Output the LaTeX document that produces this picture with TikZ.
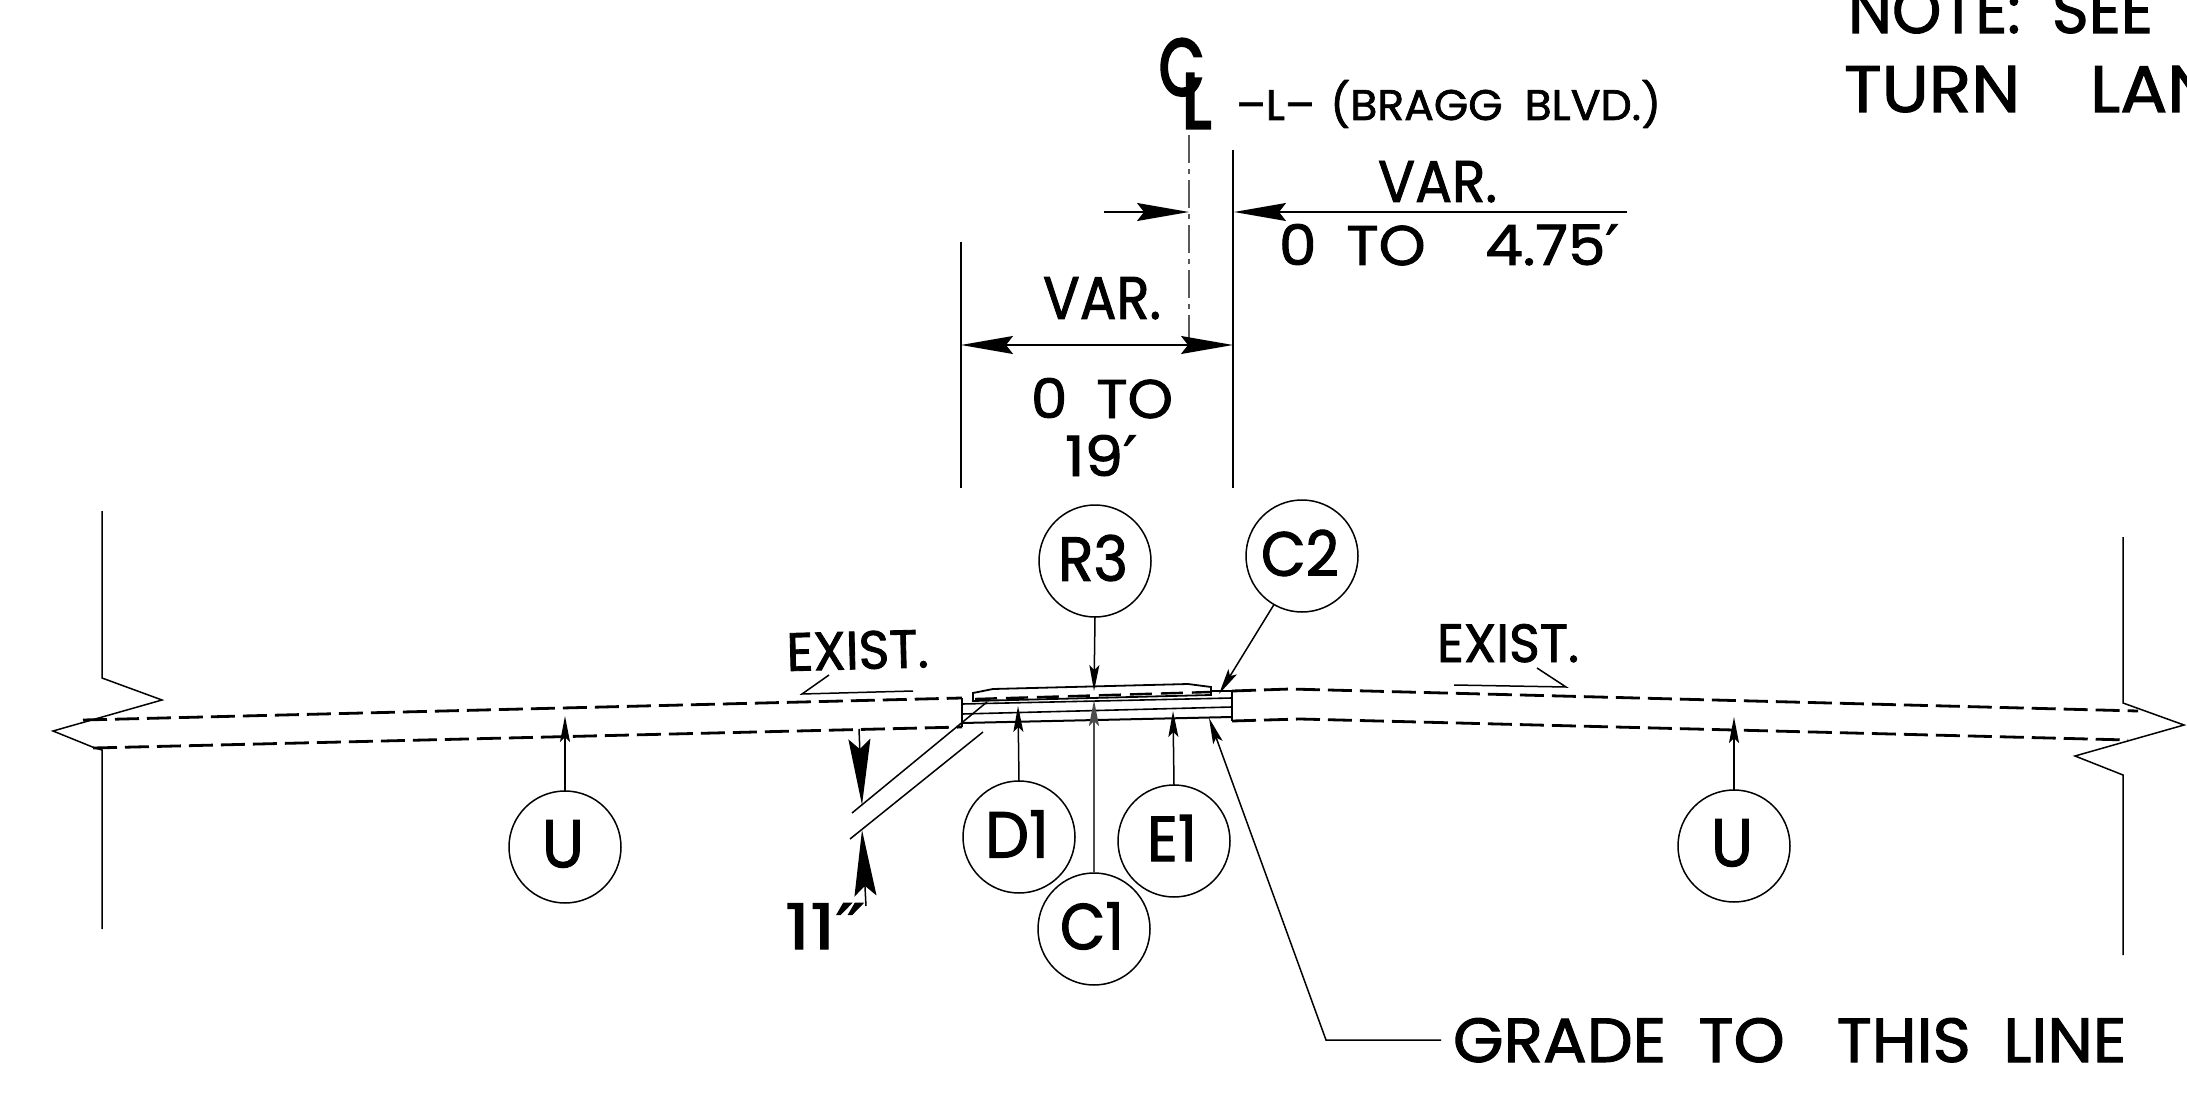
\documentclass[tikz,border=0pt]{standalone}
\usepackage{graphicx}
\usepackage{fontspec}
\setmainfont{Poppins}[RawFeature={embolden=1.6}]
\newfontfamily\clfont{Poppins}[RawFeature={embolden=4}]
\newfontfamily\primefont{DejaVu Sans}[RawFeature={embolden=1.6}]
\usetikzlibrary{arrows.meta}
\newcommand{\fit}[3]{\resizebox{#1pt}{#2pt}{#3}}
\newcommand{\bub}[3]{\raisebox{3pt}[\height][\depth]{\fit{#1}{#2}{#3}}\hspace*{4pt}}
\newcommand{\gap}{\hspace{0.5em}}
\tikzset{
  x=1pt,y=-1pt,
  txt/.style={anchor=base west,inner sep=0pt,outer sep=0pt},
  bubble/.style={draw,circle,minimum size=112pt,inner sep=0pt,outer sep=0pt,line width=1.5pt},
  thin line/.style={line width=1.5pt},
  ext line/.style={line width=1.6pt},
  road/.style={line width=2.8pt,dash pattern=on 24pt off 8pt},
  center line/.style={line width=1.5pt,draw=black!65,dash pattern=on 28pt off 6pt on 5pt off 6pt},
  bigtip/.style={-{Stealth[length=52pt,width=18pt,inset=7pt]},line width=1.6pt},
  lead/.style={-{Stealth[length=26pt,width=10pt,inset=5pt]},line width=1.5pt},
  dimtip/.style={-{Stealth[length=66pt,width=22pt,inset=10pt]},line width=1.5pt},
}
\begin{document}
\begin{tikzpicture}
\useasboundingbox (0,0) rectangle (2187,1099);
\clip (0,0) rectangle (2187,1099);

% note, clipped by the sheet edge
\node[txt] (note1) at (1848,33) {\fit{305}{46}{NOTE:\gap SEE}};
\node[txt] (note2) at (1844,112) {\fit{408}{46}{TURN\gap\gap LANE}};

% centreline symbol
\node[txt] (clc) at (1159,95) {\fit{45}{56}{\clfont C}};
\node[txt] (cll) at (1182,128) {\fit{29}{54}{\clfont L}};
\node[txt] (cltext) at (1236,120) {\fit{425}{40}{--L--\hspace{0.35em}(BRAGG\gap BLVD.)}};
\coordinate (clb) at (1189,135);
\coordinate (cle) at (1189,345);
\draw[center line] (clb) -- (cle);

% extension lines
\coordinate (e1a) at (1233,150); \coordinate (e1b) at (1233,488);
\coordinate (e2a) at (961,242);  \coordinate (e2b) at (961,488);
\draw[ext line] (e1a) -- (e1b);
\draw[ext line] (e2a) -- (e2b);

% upper dimension
\coordinate (d1a) at (1104,212); \coordinate (d1b) at (1189,212);
\coordinate (d1c) at (1627,212); \coordinate (d1d) at (1234,212);
\draw[bigtip] (d1a) -- (d1b);
\draw[bigtip] (d1c) -- (d1d);
\node[txt] (var1) at (1378,202) {\fit{119}{41}{VAR.}};
\node[txt] (to1) at (1279,265) {\fit{328}{41}{0\gap TO\gap\gap 4.75{\primefont ′}\hspace{-0.2em}}};

% lower dimension
\coordinate (d2a) at (961,345); \coordinate (d2b) at (1233,345);
\draw[bigtip,{Stealth[length=52pt,width=18pt,inset=7pt]}-{Stealth[length=52pt,width=18pt,inset=7pt]}] (d2a) -- (d2b);
\node[txt] (var2) at (1043,319) {\fit{118}{42}{VAR.}};
\node[txt] (to2) at (1031,418) {\fit{142}{40}{0\gap TO}};
\node[txt] (nineteen) at (1065,476) {\fit{72}{41}{19{\primefont ′}}};

% existing pavement, dashed
\coordinate (rl1) at (83,720); \coordinate (rl2) at (962,698);
\coordinate (rl3) at (93,748); \coordinate (rl4) at (962,727);
\coordinate (rr1) at (1232,691); \coordinate (rr2) at (1290,689); \coordinate (rr3) at (2138,711);
\coordinate (rr4) at (1232,721); \coordinate (rr5) at (1300,719); \coordinate (rr6) at (2128,740);
\draw[road] (rl1) -- (rl2);
\draw[road] (rl3) -- (rl4);
\draw[road] (rr1) -- (rr2) -- (rr3);
\draw[road] (rr4) -- (rr5) -- (rr6);

% break lines
\draw[thin line,line join=miter] (102,511) -- (102,678) -- (162,700) -- (53,731) -- (95,748) -- (102,750) -- (102,929);
\draw[thin line,line join=miter] (2123,537) -- (2123,703) -- (2184,725) -- (2075,756) -- (2123,775) -- (2123,955);

% widening section
\draw[line width=1.8pt] (973,693) -- (993,689) -- (1188,684) -- (1211,687) -- (1211,695) -- (973,701) -- cycle;
\draw[line width=2.4pt,dash pattern=on 22pt off 9pt] (975,699) -- (1211,692);
\draw[line width=2pt] (962,698) -- (962,727) (1232,691) -- (1232,721) (1211,691) -- (1232,691);
\draw[line width=1.6pt] (962,704) -- (1232,698);
\draw[line width=1.6pt] (962,714) -- (1232,707);
\draw[line width=2pt] (962,723) -- (1232,717);

% depth lines and dimension
\draw[thin line] (852,813) -- (987,702);
\draw[thin line] (850,839) -- (983,732);
\coordinate (h1a) at (859,729); \coordinate (h1b) at (862,805);
\coordinate (h2a) at (866,906); \coordinate (h2b) at (862,830);
\draw[dimtip] (h1a) -- (h1b);
\draw[dimtip] (h2a) -- (h2b);
\node[txt] (eleven) at (785,949) {\fit{80}{46}{11{\primefont ″}}};

% EXIST. labels
\node[txt,rotate=1.5] (ex1) at (787,671) {\fit{142}{38}{EXIST.}};
\draw[thin line] (829,675) -- (802,694) -- (913,691);
\node[txt] (ex2) at (1437,662) {\fit{142}{38}{EXIST.}};
\draw[thin line] (1537,668) -- (1566,687) -- (1454,685);

% callouts
\node[bubble] (r3) at (1095,561) {\bub{70}{46}{R3}};
\node[bubble] (c2) at (1302,556) {\bub{78}{46}{C2}};
\node[bubble] (d1) at (1019,837) {\bub{64}{47}{D1}};
\node[bubble] (e1) at (1174,841) {\bub{50}{46}{E1}};
\node[bubble] (c1) at (1094,929) {\bub{64}{47}{C1}};
\node[bubble] (ul) at (565,847) {\bub{42}{47}{U}};
\node[bubble] (ur) at (1734,846) {\bub{42}{47}{U}};

\coordinate (tr3) at (1094,691);
\coordinate (tc2) at (1219,694);
\coordinate (td1) at (1018,706);
\coordinate (te1) at (1173,711);
\coordinate (tc1) at (1094,700);
\coordinate (tul) at (565,716);
\coordinate (tur) at (1734,717);
\draw[lead] (r3.south) -- (tr3);
\draw[lead] (c2.-120) -- (tc2);
\draw[lead] (d1.north) -- (td1);
\draw[lead] (e1.north) -- (te1);
\draw[lead,line width=2.2pt,draw=black!70] (c1.north) -- (tc1);
\draw[lead] (ul.north) -- (tul);
\draw[lead] (ur.north) -- (tur);

% grade leader
\node[txt] (grade) at (1453,1062) {\fit{673}{44}{GRADE\gap TO\hspace{0.8em}THIS\gap LINE}};
\coordinate (tg) at (1209,718);
\coordinate (gc) at (1326,1040);
\coordinate (gt) at (1441,1040);
\draw[lead] (gt) -- (gc) -- (tg);
\end{tikzpicture}
\end{document}
